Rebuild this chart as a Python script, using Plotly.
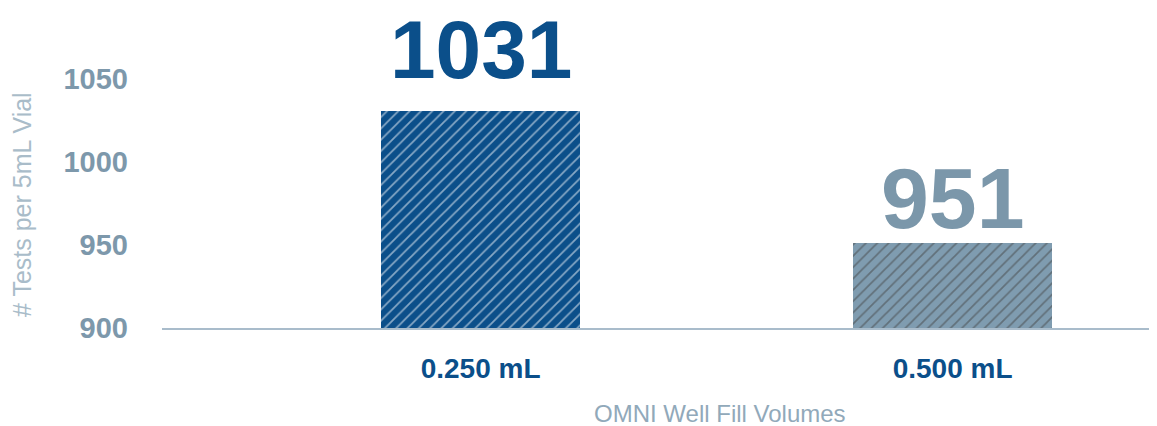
import plotly.graph_objects as go

categories = ["0.250 mL", "0.500 mL"]
values = [1031, 951]
value_labels = ["1031", "951"]
y_ticks = [900, 950, 1000, 1050]
bar_colors = ["#0b4f8a", "#7f9cb0"]
stripe_colors = ["#8fb0d0", "#c0d0db"]
label_colors = ["#0b4f8a", "#7b97aa"]
label_shifts = [14, -5]
label_sizes = [82, 86]

# page body has an 8px margin: figure drawn at (8,8) inside the 1157x426 window
W, H = 1157 - 8, 426 - 8
PLOT_L = 162 - 8
BASE = 328 - 8
PX_PER_UNIT = 1.66

fig = go.Figure()
fig.add_trace(go.Bar(
    x=categories, y=values, width=0.4216,
    marker=dict(color=bar_colors, line=dict(width=0),
                pattern=dict(shape="/", fgcolor=stripe_colors, size=8, solidity=0.22)),
    hoverinfo="skip", showlegend=False,
))

for c, v, t, col, s, fs in zip(categories, values, value_labels, label_colors, label_shifts, label_sizes):
    fig.add_annotation(x=c, y=v, text=f"<b>{t}</b>", showarrow=False,
                       yanchor="bottom", yshift=s,
                       font=dict(family="Liberation Sans, Arial", size=fs, color=col))

plot_w = W - PLOT_L
fig.add_annotation(xref="paper", x=(720 - 162) / plot_w, yref="paper", y=-(413 - 328) / BASE,
                   text="OMNI Well Fill Volumes", showarrow=False,
                   xanchor="center", yanchor="middle",
                   font=dict(family="Liberation Sans, Arial", size=24, color="#91a9ba"))
fig.add_annotation(xref="paper", x=(22 - 162) / plot_w, yref="paper", y=(328 - 205) / BASE,
                   text="# Tests per 5mL Vial", textangle=-90, showarrow=False,
                   xanchor="center", yanchor="middle",
                   font=dict(family="Liberation Sans, Arial", size=25, color="#a9bcc9"))

fig.update_layout(
    width=W, height=H,
    margin=dict(l=PLOT_L, r=0, t=0, b=H - BASE, autoexpand=False),
    paper_bgcolor="white", plot_bgcolor="white",
    bargap=0,
    xaxis=dict(range=[-0.675, 1.433], showline=True, linecolor="#a9bccb", linewidth=2,
               showgrid=False, zeroline=False, ticks="", automargin=False,
               tickfont=dict(family="Liberation Sans, Arial", size=28, color="#0b4f8a"),
               ticklabelstandoff=14, tickprefix="<b>", ticksuffix="</b>"),
    yaxis=dict(range=[900, 900 + BASE / PX_PER_UNIT], tickvals=y_ticks,
               ticktext=[f"<b>{v}</b>" for v in y_ticks], showgrid=False,
               zeroline=False, showline=False, ticks="", automargin=False,
               tickfont=dict(family="Liberation Sans, Arial", size=29, color="#7d98ab"),
               ticklabelstandoff=33),
    font=dict(family="Liberation Sans, Arial"),
)

fig.write_html("out.html")
